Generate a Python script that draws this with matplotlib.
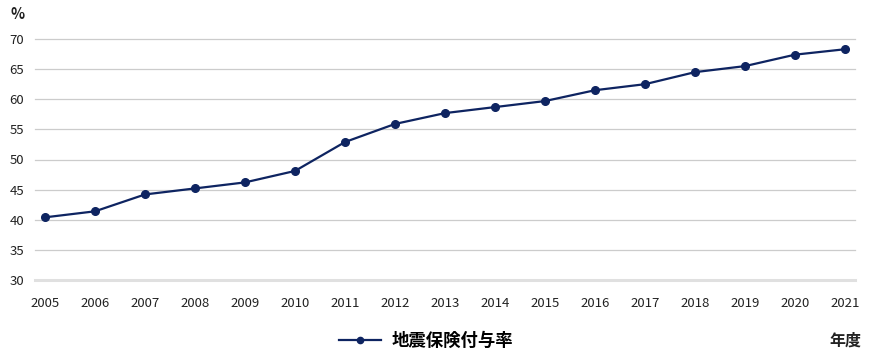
import matplotlib
matplotlib.use("Agg")
import matplotlib.pyplot as plt
from matplotlib.lines import Line2D

plt.rcParams['font.family'] = ['Noto Sans CJK JP', 'DejaVu Sans']

years = [2005, 2006, 2007, 2008, 2009, 2010, 2011, 2012, 2013, 2014, 2015,
         2016, 2017, 2018, 2019, 2020, 2021]
rate = [40.4, 41.4, 44.2, 45.2, 46.2, 48.1, 52.9, 55.9, 57.7, 58.7, 59.7,
        61.5, 62.5, 64.5, 65.5, 67.4, 68.3]
yticks = [30, 35, 40, 45, 50, 55, 60, 65, 70]
series_name = "地震保険付与率"
y_unit = "%"
x_unit = "年度"

color = "#0e2461"

fig = plt.figure(figsize=(8.9, 3.6), dpi=100)
ax = fig.add_axes([35/890, 1-280/360, 820/890, (280-39)/360])
ax.set_xlim(2004.8, 2021.2)
ax.set_ylim(30, 70)
ax.set_yticks(yticks)
ax.set_xticks(years)
ax.set_xticklabels([str(y) for y in years])
for y in yticks:
    if y == 30:
        ax.axhline(y, color="#e0e0e0", lw=2.2, zorder=1, clip_on=False)
    else:
        ax.axhline(y, color="#cccccc", lw=0.9, zorder=1, clip_on=False)
ax.plot(years, rate, color=color, lw=1.6, marker="o", ms=5.5, zorder=3, clip_on=False)
for s in ax.spines.values():
    s.set_visible(False)
ax.tick_params(axis='both', length=0, labelsize=9.5, colors="#222222")
ax.tick_params(axis='y', pad=8)
ax.tick_params(axis='x', pad=12)

fig.text(18/890, 1-14/360, y_unit, fontsize=10.5, fontweight='bold', ha='center', va='center', color="#222222")
fig.text(845/890, 1-341/360, x_unit, fontsize=11.5, fontweight='bold', ha='center', va='center', color="#222222")

handle = Line2D([], [], color=color, lw=1.6, marker="o", ms=4.5)
fig.legend([handle], [series_name], loc='center', bbox_to_anchor=(426/890, 1-341/360),
           frameon=False, prop={'size': 12.5, 'weight': 'bold'}, handlelength=2.4, handletextpad=0.6)

fig.savefig("out.png", dpi=100)
